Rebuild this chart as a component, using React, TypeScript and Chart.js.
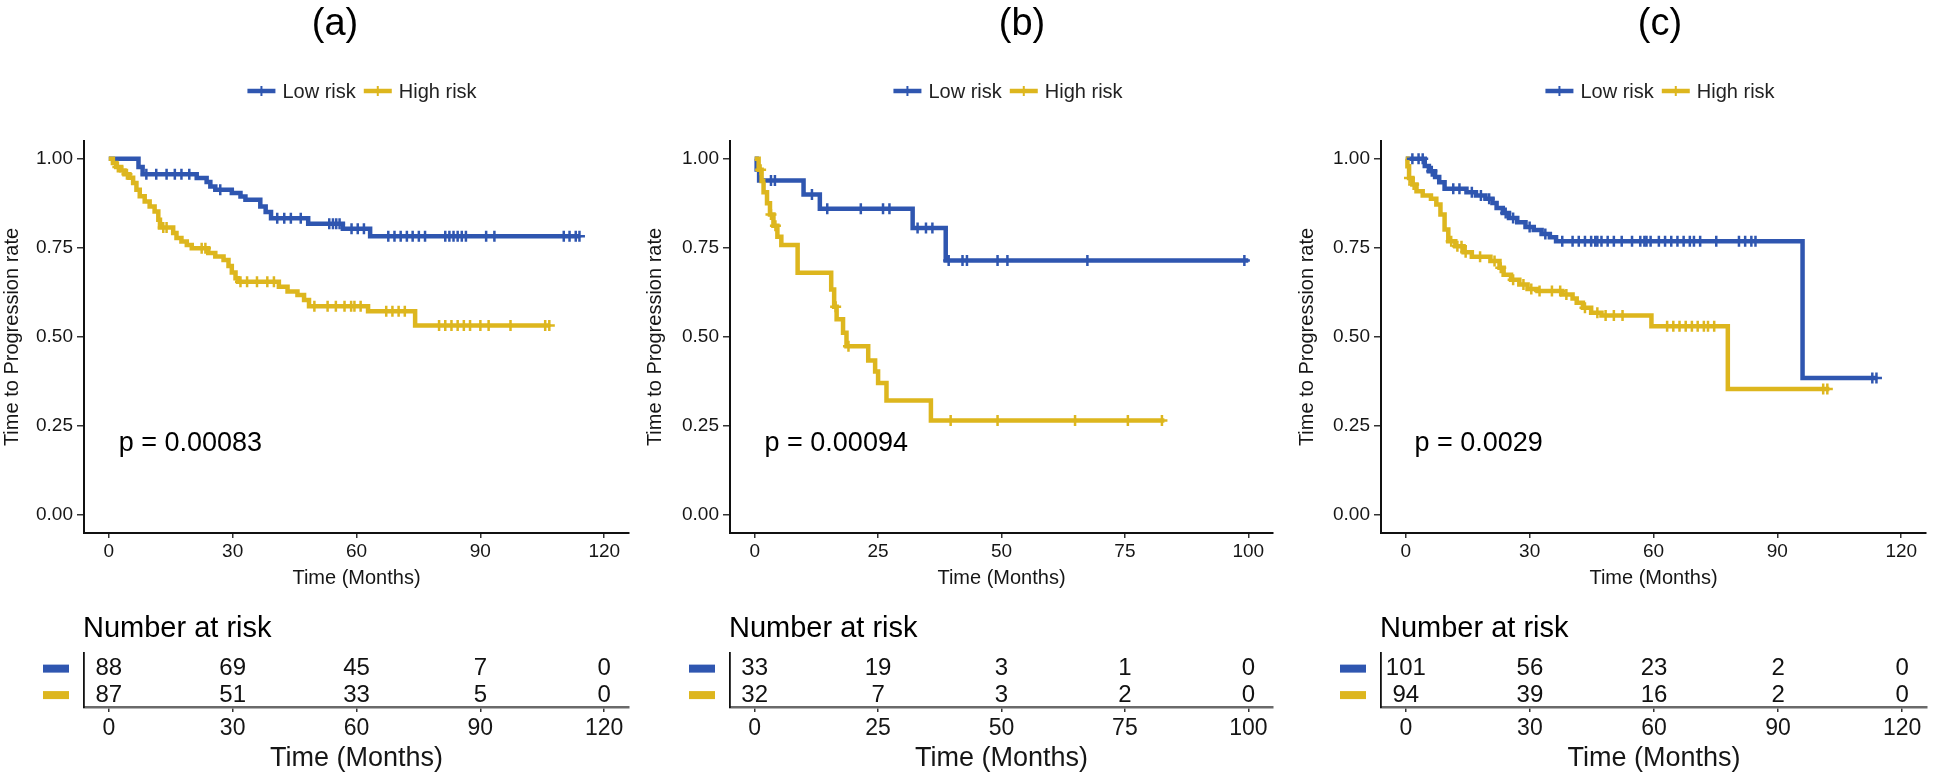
import React, { useEffect, useRef } from 'react';
import { Chart, registerables } from 'chart.js';

Chart.register(...registerables);

const FONT = '"Liberation Sans", Arial, Helvetica, sans-serif';
Chart.defaults.font.family = FONT;

const BLUE = '#2F56B0';
const YELLOW = '#DDB61E';
const INK = '#161616';

const GROUP_LABELS = ['Low risk', 'High risk'];
const Y_TICKS = [0, 0.25, 0.5, 0.75, 1];

// ---------- Panel (a) ----------
const A_LOW_T = [0, 7.2, 8.2, 21.3, 23.7, 24.6, 25.8, 29.8, 31.9, 33.1, 36.7, 38.0, 39.3, 48.3, 56.7, 63.3, 114.0];
const A_LOW_S = [1, 0.977, 0.957, 0.946, 0.935, 0.922, 0.913, 0.904, 0.894, 0.885, 0.866, 0.851, 0.833, 0.818, 0.804, 0.783, 0.783];
const A_LOW_CENS = [9.1, 11.5, 14.0, 16.0, 17.6, 19.5, 27.0, 40.8, 42.5, 44.1, 46.5, 53.4, 54.3, 55.1, 55.9, 58.8, 60.3, 61.8, 67.7, 69.2, 70.7, 72.2, 73.6, 75.1, 76.6, 81.5, 82.5, 83.5, 84.5, 85.5, 86.5, 91.4, 93.4, 110.2, 111.6, 113.1, 114.0];
const A_HIGH_T = [0, 1.0, 1.8, 3.0, 3.8, 5.0, 5.9, 6.7, 7.5, 8.7, 9.9, 11.1, 12.0, 12.4, 15.6, 16.4, 17.6, 18.9, 20.1, 24.1, 25.8, 27.8, 29.0, 29.8, 30.7, 31.3, 41.2, 43.3, 45.7, 47.3, 48.5, 62.8, 74.2, 106.7];
const A_HIGH_S = [1, 0.988, 0.977, 0.967, 0.957, 0.947, 0.932, 0.913, 0.895, 0.88, 0.866, 0.852, 0.829, 0.807, 0.792, 0.778, 0.768, 0.758, 0.749, 0.736, 0.726, 0.716, 0.699, 0.681, 0.665, 0.655, 0.641, 0.628, 0.618, 0.604, 0.586, 0.572, 0.532, 0.532];
const A_HIGH_CENS = [2.2, 4.4, 13.2, 14.0, 22.5, 23.4, 31.9, 33.5, 35.9, 38.4, 40.0, 49.8, 53.0, 55.0, 57.1, 58.7, 59.5, 61.0, 67.2, 68.7, 70.2, 71.7, 80.0, 81.5, 83.0, 84.5, 86.0, 87.5, 90.0, 92.0, 97.3, 105.7, 106.7];
const A_X_TICKS = [0, 30, 60, 90, 120];
const A_RISK_LOW = [88, 69, 45, 7, 0];
const A_RISK_HIGH = [87, 51, 33, 5, 0];

// ---------- Panel (b) ----------
const B_LOW_T = [0, 0.4, 0.9, 9.9, 13.2, 32.0, 38.7, 100.0];
const B_LOW_S = [1, 0.97, 0.939, 0.9, 0.86, 0.806, 0.715, 0.715];
const B_LOW_CENS = [3.3, 4.1, 11.6, 14.7, 21.5, 26.0, 27.3, 33.0, 34.7, 36.0, 39.3, 42.1, 43.0, 49.2, 51.2, 67.4, 99.2];
const B_HIGH_T = [0, 0.8, 1.4, 1.8, 2.5, 3.1, 3.8, 4.6, 5.4, 8.7, 15.5, 16.1, 16.6, 17.9, 18.6, 23.0, 24.4, 25.0, 26.7, 35.7, 83.0];
const B_HIGH_S = [1, 0.969, 0.938, 0.906, 0.875, 0.844, 0.812, 0.781, 0.758, 0.68, 0.633, 0.585, 0.55, 0.512, 0.474, 0.434, 0.403, 0.371, 0.322, 0.266, 0.266];
const B_HIGH_CENS = [1.2, 3.3, 4.2, 16.4, 19.0, 39.7, 49.2, 64.9, 75.6, 82.5];
const B_X_TICKS = [0, 25, 50, 75, 100];
const B_RISK_LOW = [33, 19, 3, 1, 0];
const B_RISK_HIGH = [32, 7, 3, 2, 0];

// ---------- Panel (c) ----------
const C_LOW_T = [0, 4.6, 5.6, 7.1, 8.1, 9.4, 14.7, 17.0, 19.3, 21.0, 22.0, 23.5, 25.0, 27.0, 29.0, 31.0, 32.9, 34.9, 36.4, 96.1, 114.0];
const C_LOW_S = [1, 0.98, 0.965, 0.949, 0.934, 0.916, 0.906, 0.897, 0.888, 0.876, 0.862, 0.848, 0.834, 0.822, 0.809, 0.8, 0.789, 0.78, 0.769, 0.385, 0.385];
const C_LOW_CENS = [1.6, 3.1, 4.1, 6.3, 11.5, 13.0, 16.0, 18.2, 20.2, 24.2, 26.0, 30.0, 33.8, 37.9, 40.4, 41.9, 43.4, 44.9, 45.9, 46.4, 47.4, 48.9, 50.4, 52.3, 54.8, 56.8, 57.8, 58.3, 59.3, 61.3, 62.8, 64.3, 65.8, 67.3, 68.8, 69.8, 71.3, 75.2, 80.7, 82.2, 83.7, 84.7, 113.0, 114.0];
const C_HIGH_T = [0, 0.4, 0.8, 1.6, 2.6, 4.1, 6.1, 7.4, 8.4, 9.4, 10.3, 12.0, 14.0, 16.0, 20.5, 22.7, 23.7, 25.5, 27.5, 29.5, 31.9, 37.9, 40.4, 41.4, 42.9, 44.9, 47.4, 59.5, 78.0, 102.6];
const C_HIGH_S = [1, 0.979, 0.946, 0.928, 0.909, 0.897, 0.888, 0.872, 0.844, 0.802, 0.769, 0.755, 0.738, 0.725, 0.713, 0.694, 0.675, 0.661, 0.647, 0.635, 0.629, 0.619, 0.608, 0.596, 0.582, 0.568, 0.56, 0.53, 0.354, 0.354];
const C_HIGH_CENS = [0.9, 1.9, 11.0, 12.5, 13.5, 14.5, 18.0, 21.5, 23.0, 26.0, 28.5, 30.4, 32.4, 35.4, 37.4, 38.9, 43.4, 46.4, 48.4, 50.4, 52.5, 63.3, 64.8, 66.3, 67.8, 69.3, 70.7, 72.2, 73.2, 74.7, 101.1, 102.1];
const C_X_TICKS = [0, 30, 60, 90, 120];
const C_RISK_LOW = [101, 56, 23, 2, 0];
const C_RISK_HIGH = [94, 39, 16, 2, 0];

const TITLES = ['(a)', '(b)', '(c)'];
const P_TEXTS = ['p = 0.00083', 'p = 0.00094', 'p = 0.0029'];

// layout (pixels) — not data
const KM_H = 600;
const RISK_H = 180;
const PANELS = [
  { title: TITLES[0], left: 0, width: 640, axisW: 84, padR: 11, yTitlePad: 0, titleX: 335, legendX: 362, xMin: -6, xMax: 126, pX: 2.4,
    ticks: A_X_TICKS, low: [A_LOW_T, A_LOW_S, A_LOW_CENS], high: [A_HIGH_T, A_HIGH_S, A_HIGH_CENS], p: P_TEXTS[0], risk: [A_RISK_LOW, A_RISK_HIGH] },
  { title: TITLES[1], left: 640, width: 650, axisW: 90, padR: 17, yTitlePad: 3, titleX: 382, legendX: 368, xMin: -5, xMax: 105, pX: 2.0,
    ticks: B_X_TICKS, low: [B_LOW_T, B_LOW_S, B_LOW_CENS], high: [B_HIGH_T, B_HIGH_S, B_HIGH_CENS], p: P_TEXTS[1], risk: [B_RISK_LOW, B_RISK_HIGH] },
  { title: TITLES[2], left: 1290, width: 644, axisW: 91, padR: 7, yTitlePad: 5, titleX: 370, legendX: 370, xMin: -6, xMax: 126, pX: 2.1,
    ticks: C_X_TICKS, low: [C_LOW_T, C_LOW_S, C_LOW_CENS], high: [C_HIGH_T, C_HIGH_S, C_HIGH_CENS], p: P_TEXTS[2], risk: [C_RISK_LOW, C_RISK_HIGH] },
];

function survAt(t: number, T: number[], S: number[]) {
  let v = S[0];
  for (let i = 0; i < T.length; i++) {
    if (T[i] <= t) v = S[i];
    else break;
  }
  return v;
}

function stepPoints(T: number[], S: number[]) {
  return T.map((t, i) => ({ x: t, y: S[i] }));
}

function censorPoints(C: number[], T: number[], S: number[]) {
  return C.map((t) => ({ x: t, y: survAt(t, T, S) }));
}

const kmDecor = {
  id: 'kmDecor',
  afterDraw(chart: any, _args: any, opts: any) {
    const { ctx, scales } = chart;
    ctx.save();
    // panel title
    ctx.fillStyle = '#000';
    ctx.font = `38px ${FONT}`;
    ctx.textAlign = 'center';
    ctx.textBaseline = 'middle';
    ctx.fillText(opts.title, opts.titleX, 25);
    // legend
    ctx.font = `20px ${FONT}`;
    const items = opts.items as { label: string; color: string }[];
    const LINE = 28, GAP_T = 7, GAP_I = 8;
    const widths = items.map((it) => ctx.measureText(it.label).width);
    const total = items.reduce((s, _it, i) => s + LINE + GAP_T + widths[i], 0) + GAP_I * (items.length - 1);
    let x = opts.legendX - total / 2;
    const y = 91;
    items.forEach((it, i) => {
      ctx.strokeStyle = it.color;
      ctx.lineWidth = 4.5;
      ctx.beginPath();
      ctx.moveTo(x, y);
      ctx.lineTo(x + LINE, y);
      ctx.stroke();
      ctx.lineWidth = 2;
      ctx.beginPath();
      ctx.moveTo(x + LINE / 2, y - 5);
      ctx.lineTo(x + LINE / 2, y + 5);
      ctx.stroke();
      ctx.fillStyle = '#222';
      ctx.textAlign = 'left';
      ctx.fillText(it.label, x + LINE + GAP_T, y + 1);
      x += LINE + GAP_T + widths[i] + GAP_I;
    });
    // p-value
    ctx.fillStyle = '#000';
    ctx.font = `27px ${FONT}`;
    ctx.textAlign = 'left';
    ctx.textBaseline = 'middle';
    ctx.fillText(opts.pText, scales.x.getPixelForValue(opts.pX), scales.y.getPixelForValue(opts.pY));
    ctx.restore();
  },
};

const riskDecor = {
  id: 'riskDecor',
  afterDraw(chart: any, _args: any, opts: any) {
    const { ctx, chartArea } = chart;
    ctx.save();
    ctx.fillStyle = '#000';
    ctx.font = `29px ${FONT}`;
    ctx.textAlign = 'left';
    ctx.textBaseline = 'alphabetic';
    ctx.fillText('Number at risk', chartArea.left - 1, chartArea.top - 16);
    ctx.font = `24px ${FONT}`;
    ctx.textAlign = 'center';
    ctx.textBaseline = 'middle';
    chart.data.datasets.forEach((ds: any, di: number) => {
      const meta = chart.getDatasetMeta(di);
      const els = meta.data;
      if (!els.length) return;
      ctx.fillStyle = ds.rowColor;
      ctx.fillRect(chartArea.left - 41, els[0].y - 4, 26, 8);
      ctx.fillStyle = '#111';
      els.forEach((el: any, i: number) => {
        ctx.fillText(String(ds.data[i].n), el.x, el.y);
      });
    });
    ctx.restore();
  },
};

function axisX(p: any, height: number, fontSize: number, pad: number, titleSize: number, titlePadB: number, borderColor: string, borderW: number) {
  return {
    type: 'linear',
    min: p.xMin,
    max: p.xMax,
    afterBuildTicks: (s: any) => {
      s.ticks = p.ticks.map((v: number) => ({ value: v }));
    },
    afterFit: (s: any) => {
      s.height = height;
    },
    ticks: {
      font: { size: fontSize, family: FONT },
      color: INK,
      padding: pad,
      maxRotation: 0,
      autoSkip: false,
      callback: (v: any) => String(v),
    },
    grid: { display: true, drawOnChartArea: false, drawTicks: true, tickLength: 5, tickColor: '#333', lineWidth: 1.5 },
    border: { display: true, color: borderColor, width: borderW },
    title: { display: true, text: 'Time (Months)', color: INK, font: { size: titleSize, family: FONT }, padding: { top: 0, bottom: titlePadB } },
  };
}

function kmConfig(p: any) {
  const [lT, lS, lC] = p.low;
  const [hT, hS, hC] = p.high;
  return {
    type: 'line',
    data: {
      datasets: [
        { label: GROUP_LABELS[0], data: stepPoints(lT, lS), borderColor: BLUE, borderWidth: 4.5, stepped: 'before', pointRadius: 0, fill: false, order: 4, borderJoinStyle: 'miter' },
        { label: GROUP_LABELS[1], data: stepPoints(hT, hS), borderColor: YELLOW, borderWidth: 4.5, stepped: 'before', pointRadius: 0, fill: false, order: 3, borderJoinStyle: 'miter' },
        { label: 'cens-low', data: censorPoints(lC, lT, lS), showLine: false, pointStyle: 'cross', pointRadius: 5.5, pointBorderWidth: 2.5, pointBorderColor: BLUE, pointBackgroundColor: BLUE, order: 2 },
        { label: 'cens-high', data: censorPoints(hC, hT, hS), showLine: false, pointStyle: 'cross', pointRadius: 5.5, pointBorderWidth: 2.5, pointBorderColor: YELLOW, pointBackgroundColor: YELLOW, order: 1 },
      ],
    },
    options: {
      animation: false,
      responsive: false,
      devicePixelRatio: 1,
      events: [],
      layout: { padding: { top: 141, right: p.padR, left: 0, bottom: 0 } },
      plugins: {
        legend: { display: false },
        tooltip: { enabled: false },
        kmDecor: {
          title: p.title,
          titleX: p.titleX,
          legendX: p.legendX,
          items: [
            { label: GROUP_LABELS[0], color: BLUE },
            { label: GROUP_LABELS[1], color: YELLOW },
          ],
          pText: p.p,
          pX: p.pX,
          pY: 0.2,
        },
      },
      scales: {
        x: axisX(p, KM_H - 533, 19, 2, 20, 10, '#111', 2),
        y: {
          type: 'linear',
          min: -0.05,
          max: 1.05,
          afterBuildTicks: (s: any) => {
            s.ticks = Y_TICKS.map((v) => ({ value: v }));
          },
          afterFit: (s: any) => {
            s.width = p.axisW;
          },
          ticks: { font: { size: 19, family: FONT }, color: INK, padding: 4, callback: (v: any) => Number(v).toFixed(2) },
          grid: { display: true, drawOnChartArea: false, drawTicks: true, tickLength: 7, tickColor: '#333', lineWidth: 1.5 },
          border: { display: true, color: '#111', width: 2 },
          title: { display: true, text: 'Time to Progression rate', color: INK, font: { size: 20, family: FONT }, padding: { top: p.yTitlePad, bottom: 0 } },
        },
      },
    },
    plugins: [kmDecor],
  };
}

function riskConfig(p: any) {
  const [rLow, rHigh] = p.risk;
  const rows = [
    { values: rLow, level: 2, color: BLUE, label: GROUP_LABELS[0] },
    { values: rHigh, level: 1, color: YELLOW, label: GROUP_LABELS[1] },
  ];
  return {
    type: 'line',
    data: {
      datasets: rows.map((r) => ({
        label: r.label,
        rowColor: r.color,
        data: p.ticks.map((t: number, i: number) => ({ x: t, y: r.level, n: r.values[i] })),
        showLine: false,
        pointRadius: 0,
      })),
    },
    options: {
      animation: false,
      responsive: false,
      devicePixelRatio: 1,
      events: [],
      layout: { padding: { top: 53, right: p.padR, left: 0, bottom: 0 } },
      plugins: { legend: { display: false }, tooltip: { enabled: false } },
      scales: {
        x: axisX(p, RISK_H - 107, 23, 3, 27, 5, '#6a6a6a', 2.5),
        y: {
          type: 'linear',
          min: 0.55,
          max: 2.59,
          afterFit: (s: any) => {
            s.width = p.axisW;
          },
          ticks: { display: false },
          grid: { display: false },
          border: { display: true, color: '#111', width: 1.8 },
        },
      },
    },
    plugins: [riskDecor],
  };
}

function Panel({ p }: { p: any }) {
  const kmRef = useRef<HTMLCanvasElement>(null);
  const riskRef = useRef<HTMLCanvasElement>(null);
  useEffect(() => {
    const c1 = new Chart(kmRef.current as HTMLCanvasElement, kmConfig(p) as any);
    const c2 = new Chart(riskRef.current as HTMLCanvasElement, riskConfig(p) as any);
    return () => {
      c1.destroy();
      c2.destroy();
    };
  }, [p]);
  return (
    <>
      <canvas
        ref={kmRef}
        width={p.width}
        height={KM_H}
        style={{ position: 'absolute', left: p.left, top: 0, width: p.width, height: KM_H }}
      />
      <canvas
        ref={riskRef}
        width={p.width}
        height={RISK_H}
        style={{ position: 'absolute', left: p.left, top: KM_H, width: p.width, height: RISK_H }}
      />
    </>
  );
}

export default function App() {
  return (
    <div style={{ position: 'absolute', left: 0, top: 0, width: 1934, height: 780, background: '#fff', overflow: 'hidden' }}>
      {PANELS.map((p, i) => (
        <Panel key={i} p={p} />
      ))}
    </div>
  );
}
